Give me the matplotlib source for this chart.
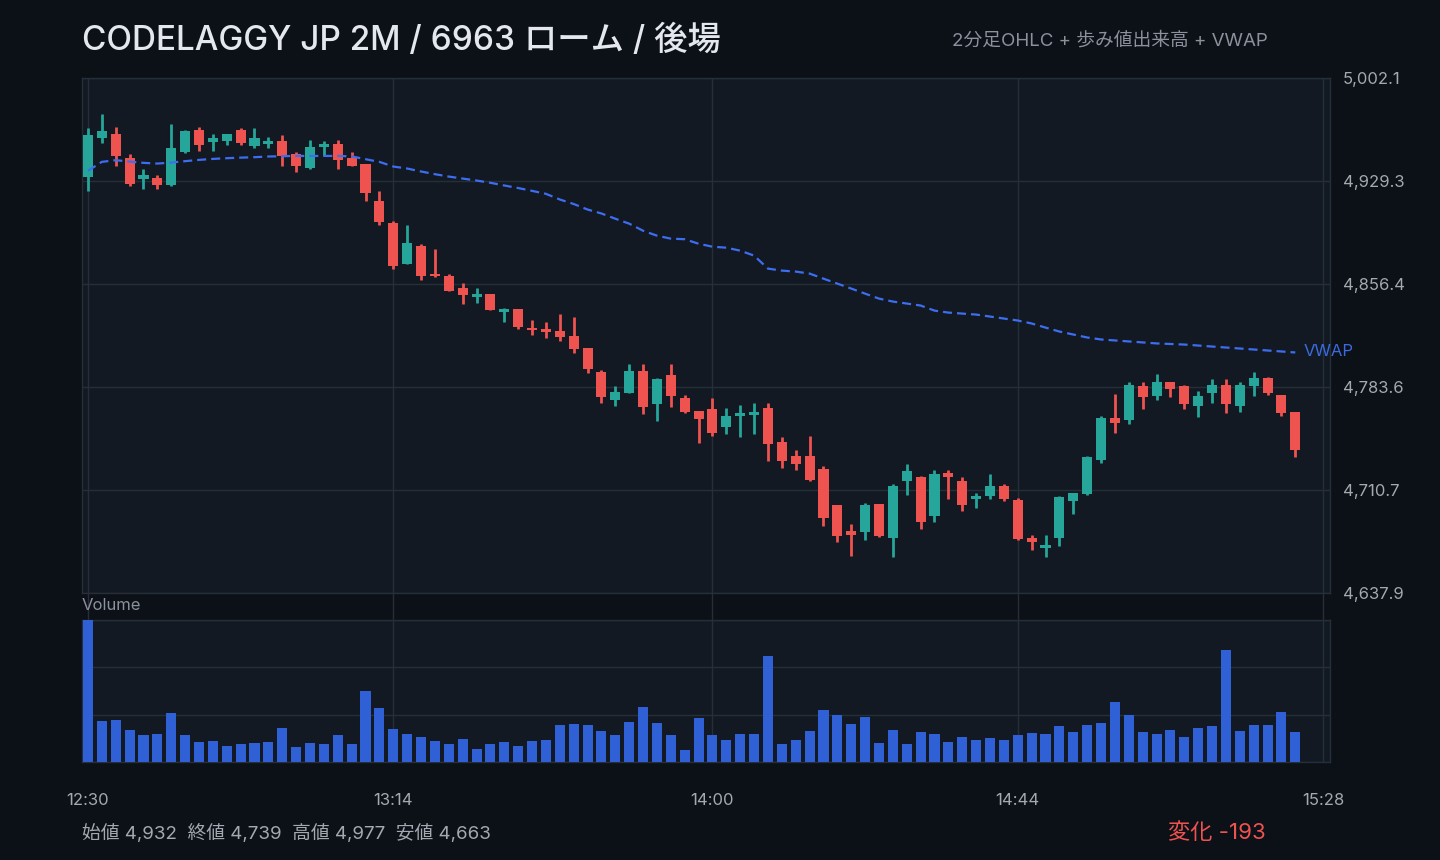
import matplotlib
matplotlib.use("Agg")
import matplotlib.pyplot as plt
import numpy as np

plt.rcParams['font.family'] = ['Inter', 'Noto Sans CJK JP', 'DejaVu Sans']
plt.rcParams['lines.scale_dashes'] = False

# ---------------- data ----------------
title = "CODELAGGY JP 2M / 6963 ローム / 後場"
subtitle = "2分足OHLC + 歩み値出来高 + VWAP"
start_hour, start_min = 12, 30
bar_minutes = 2
tick_times = ["12:30", "13:14", "14:00", "14:44", "15:28"]

opens = [4932.0, 4959.8, 4962.6, 4945.6, 4931.0, 4931.5, 4926.1, 4950.1, 4965.4, 4957.1,
         4957.8, 4965.4, 4954.3, 4955.7, 4957.6, 4948.5, 4938.8, 4953.6, 4955.5, 4945.6,
         4941.4, 4915.3, 4899.8, 4870.3, 4883.5, 4863.8, 4862.4, 4853.9, 4847.3, 4849.0,
         4836.5, 4838.4, 4825.6, 4824.9, 4823.5, 4819.3, 4811.5, 4794.1, 4774.3, 4779.3,
         4794.6, 4771.6, 4791.8, 4775.5, 4766.4, 4767.8, 4755.3, 4763.0, 4763.7, 4768.5,
         4744.5, 4734.6, 4734.6, 4725.4, 4699.9, 4681.7, 4681.2, 4700.7, 4676.9, 4717.2,
         4719.8, 4692.5, 4722.6, 4717.0, 4704.5, 4706.3, 4713.4, 4703.5, 4676.9, 4669.9,
         4676.9, 4703.0, 4708.0, 4732.0, 4761.4, 4760.2, 4784.0, 4777.2, 4786.8, 4784.0,
         4770.1, 4779.3, 4784.7, 4770.1, 4784.2, 4789.7, 4777.7, 4765.7]
highs = [4966.8, 4977.0, 4967.5, 4948.5, 4937.9, 4933.6, 4969.6, 4965.4, 4967.5, 4962.6,
         4962.6, 4966.8, 4966.8, 4960.5, 4961.9, 4949.9, 4958.3, 4957.6, 4958.3, 4949.9,
         4941.4, 4922.3, 4900.7, 4898.3, 4885.0, 4881.4, 4863.8, 4857.4, 4853.9, 4849.7,
         4839.8, 4838.4, 4831.3, 4829.9, 4835.5, 4833.4, 4811.5, 4795.9, 4784.0, 4799.5,
         4799.5, 4789.6, 4799.5, 4777.7, 4766.4, 4775.5, 4768.5, 4770.6, 4772.0, 4772.0,
         4748.0, 4738.8, 4748.7, 4727.5, 4699.9, 4686.6, 4701.4, 4700.7, 4714.8, 4729.0,
         4720.5, 4724.7, 4724.7, 4719.8, 4708.5, 4721.9, 4714.8, 4704.9, 4679.1, 4679.1,
         4706.3, 4708.5, 4734.6, 4762.8, 4778.4, 4786.8, 4786.8, 4792.5, 4786.8, 4784.7,
         4780.5, 4788.9, 4788.9, 4786.8, 4793.9, 4790.3, 4777.7, 4765.7]
lows = [4921.9, 4956.4, 4940.2, 4926.0, 4923.3, 4923.3, 4926.0, 4949.4, 4950.8, 4950.8,
        4955.0, 4955.0, 4952.9, 4952.9, 4940.2, 4935.3, 4938.1, 4947.3, 4938.1, 4940.2,
        4914.8, 4897.8, 4866.8, 4870.3, 4859.0, 4861.1, 4851.3, 4842.4, 4842.8, 4837.9,
        4829.4, 4824.5, 4820.2, 4818.1, 4816.0, 4807.5, 4793.4, 4772.2, 4770.1, 4779.3,
        4764.5, 4759.5, 4769.4, 4765.2, 4744.0, 4748.9, 4750.3, 4748.2, 4750.3, 4731.3,
        4726.4, 4724.9, 4717.2, 4685.4, 4674.1, 4664.2, 4675.5, 4677.7, 4663.5, 4707.3,
        4683.3, 4688.2, 4704.5, 4696.0, 4698.1, 4704.5, 4703.1, 4675.5, 4668.5, 4663.0,
        4671.3, 4693.9, 4707.3, 4729.9, 4751.0, 4757.4, 4767.9, 4774.3, 4776.5, 4767.9,
        4762.3, 4772.2, 4765.2, 4765.9, 4777.2, 4777.9, 4763.0, 4734.1]
closes = [4961.9, 4964.7, 4947.3, 4926.8, 4933.6, 4926.1, 4952.7, 4964.7, 4955.0, 4959.8,
          4962.6, 4956.4, 4959.8, 4957.6, 4947.3, 4940.2, 4953.4, 4955.5, 4944.4, 4940.2,
          4921.1, 4900.0, 4868.9, 4885.7, 4861.8, 4861.8, 4851.3, 4848.5, 4849.0, 4837.9,
          4838.4, 4825.9, 4823.7, 4822.3, 4818.8, 4810.3, 4796.2, 4776.5, 4779.8, 4794.6,
          4769.4, 4788.9, 4777.2, 4765.9, 4760.9, 4751.0, 4762.8, 4764.9, 4765.6, 4743.3,
          4731.3, 4729.2, 4717.9, 4690.9, 4678.4, 4679.1, 4699.9, 4678.4, 4713.4, 4724.0,
          4688.2, 4721.9, 4720.0, 4700.0, 4706.2, 4713.4, 4704.5, 4676.2, 4674.1, 4671.8,
          4705.6, 4708.5, 4733.9, 4761.4, 4758.1, 4784.7, 4776.4, 4786.8, 4782.1, 4771.5,
          4776.9, 4784.7, 4771.5, 4784.7, 4789.7, 4779.3, 4765.2, 4739.0]
volumes = [30000, 8700, 8900, 6800, 5800, 6000, 10400, 5800, 4300, 4500,
           3400, 3900, 4100, 4300, 7200, 3200, 4100, 3700, 5600, 3700,
           15000, 11500, 7000, 6000, 5300, 4500, 3900, 4900, 2800, 3700,
           4300, 3400, 4500, 4700, 7900, 8100, 7900, 6600, 5800, 8500,
           11700, 8300, 5800, 2600, 9300, 5800, 4700, 6000, 6000, 22400,
           3900, 4700, 6600, 11000, 10000, 8100, 9600, 4100, 6800, 3700,
           6400, 6000, 4300, 5300, 4700, 5100, 4700, 5600, 6200, 6000,
           7700, 6400, 7900, 8300, 12700, 10000, 6400, 6000, 6800, 5300,
           7200, 7700, 23700, 6600, 7900, 7900, 10600, 6400]
vwap = [4936.5, 4942.8, 4944.0, 4943.0, 4942.1, 4941.6, 4942.3, 4943.3, 4944.2, 4944.9,
        4945.4, 4945.8, 4946.1, 4946.6, 4946.8, 4947.0, 4947.0, 4947.0, 4947.0, 4946.7,
        4944.7, 4942.8, 4939.5, 4938.1, 4936.0, 4934.1, 4932.4, 4931.0, 4929.6, 4928.0,
        4926.1, 4924.3, 4922.3, 4920.2, 4916.2, 4913.0, 4909.1, 4906.3, 4902.6, 4899.1,
        4894.1, 4890.6, 4888.5, 4888.1, 4884.9, 4882.8, 4882.1, 4880.0, 4876.5, 4867.3,
        4865.9, 4865.2, 4863.8, 4860.2, 4856.7, 4853.2, 4849.6, 4846.1, 4844.0, 4842.6,
        4841.2, 4837.6, 4836.2, 4835.5, 4834.8, 4833.4, 4832.0, 4830.6, 4828.5, 4825.6,
        4822.8, 4820.7, 4818.6, 4817.2, 4816.5, 4815.8, 4815.1, 4814.4, 4814.0, 4813.6,
        4812.9, 4812.2, 4811.5, 4810.8, 4810.1, 4809.4, 4808.7, 4808.0]

# ---------------- style ----------------
BG = '#0c1017'
PANEL = '#121922'
GRID = '#262e38'
UP = '#26a69a'
DOWN = '#ef5350'
VOLC = '#3060d6'
VWAPC = '#3d6df0'
TXT = '#e4e8ee'
SUB = '#8b929c'
TICK = '#a3a9b1'

o = np.array(opens); h = np.array(highs); l = np.array(lows); c = np.array(closes)
n = len(o)
x = np.arange(n) * bar_minutes  # minutes since 12:30

def to_min(t):
    hh, mm = map(int, t.split(':'))
    return (hh - start_hour) * 60 + (mm - start_min)

tick_pos = [to_min(t) for t in tick_times]

W, H = 1440, 860
fig = plt.figure(figsize=(W / 100, H / 100), dpi=100, facecolor=BG)

L, R = 82, 1330
ax = fig.add_axes([L / W, 1 - 593 / H, (R - L) / W, (593 - 78) / H], facecolor=PANEL)
axv = fig.add_axes([L / W, 1 - 762 / H, (R - L) / W, (762 - 620) / H], facecolor=PANEL, sharex=ax)
axg = fig.add_axes([L / W, 1 - 620 / H, (R - L) / W, (620 - 593) / H], sharex=ax)
axg.set_facecolor('none')

xlim = (-0.86, 179.0)
ax.set_xlim(*xlim)

# price scale
lo, hi = l.min(), h.max()
pad = 0.08 * (hi - lo)
ylo, yhi = lo - pad, hi + pad
ax.set_ylim(ylo, yhi)
yt = np.linspace(ylo, yhi, 6)
ax.set_yticks(yt)
ax.set_yticklabels([f"{v:,.1f}" for v in yt])
ax.yaxis.tick_right()
ax.tick_params(axis='y', length=0, pad=9, labelsize=12, labelcolor=TICK)
ax.tick_params(axis='x', length=0, labelbottom=False)
ax.set_xticks(tick_pos)
ax.grid(True, color=GRID, linewidth=1)
for s in ax.spines.values():
    s.set_color(GRID)
    s.set_linewidth(1)

# candles
up = c >= o
colors = np.where(up, UP, DOWN)
body_lo = np.minimum(o, c)
body_h = np.maximum(np.abs(c - o), 0.4)
ax.vlines(x, l, h, colors=colors, linewidth=2, zorder=3)
ax.bar(x, body_h, bottom=body_lo, width=1.45, color=colors, linewidth=0, zorder=4)

# VWAP
ax.plot(x, vwap, color=VWAPC, linewidth=1.6, linestyle=(0, (6.5, 3.6)), zorder=5)
ax.annotate("VWAP", xy=(x[-1], vwap[-1]), xytext=(6, 1), textcoords='offset points',
            color='#3a6be0', fontsize=12, va='center', ha='left', annotation_clip=False)

# volume
axv.bar(x, volumes, width=1.45, color=VOLC, linewidth=0, zorder=3)
vmax = max(volumes)
axv.set_ylim(0, vmax)
axv.set_yticks(np.linspace(0, vmax, 4))
axv.tick_params(axis='y', length=0, labelleft=False, labelright=False)
axv.set_xticks(tick_pos)
axv.set_xticklabels(tick_times)
axv.tick_params(axis='x', length=0, pad=22, labelsize=12, labelcolor=TICK)
axv.grid(True, color=GRID, linewidth=1)
for s in axv.spines.values():
    s.set_color(GRID)
    s.set_linewidth(1)
axv.set_xlim(*xlim)

# gap between panels: vertical grid only
axg.set_ylim(0, 1)
for p in tick_pos:
    axg.axvline(p, color=GRID, linewidth=1)
axg.axis('off')
axg.set_xlim(*xlim)
fig.text(L / W, 1 - 606 / H, "Volume", color=SUB, fontsize=12, va='center', ha='left')

# titles
fig.text(L / W, 1 - 41 / H, title, color=TXT, fontsize=24, fontweight='medium',
         va='center', ha='left')
fig.text(1268 / W, 1 - 41 / H, subtitle, color=SUB, fontsize=13.5, va='center', ha='right')

# footer stats
stats = (f"始値 {o[0]:,.0f}  終値 {c[-1]:,.0f}  高値 {hi:,.0f}  安値 {lo:,.0f}")
fig.text(L / W, 1 - 833 / H, stats, color=TICK, fontsize=13.5, va='center', ha='left')
chg = c[-1] - o[0]
fig.text(1266 / W, 1 - 833 / H, f"変化 {chg:+,.0f}", color=DOWN if chg < 0 else UP,
         fontsize=16, va='center', ha='right')

fig.savefig("out.png", dpi=100, facecolor=BG)
